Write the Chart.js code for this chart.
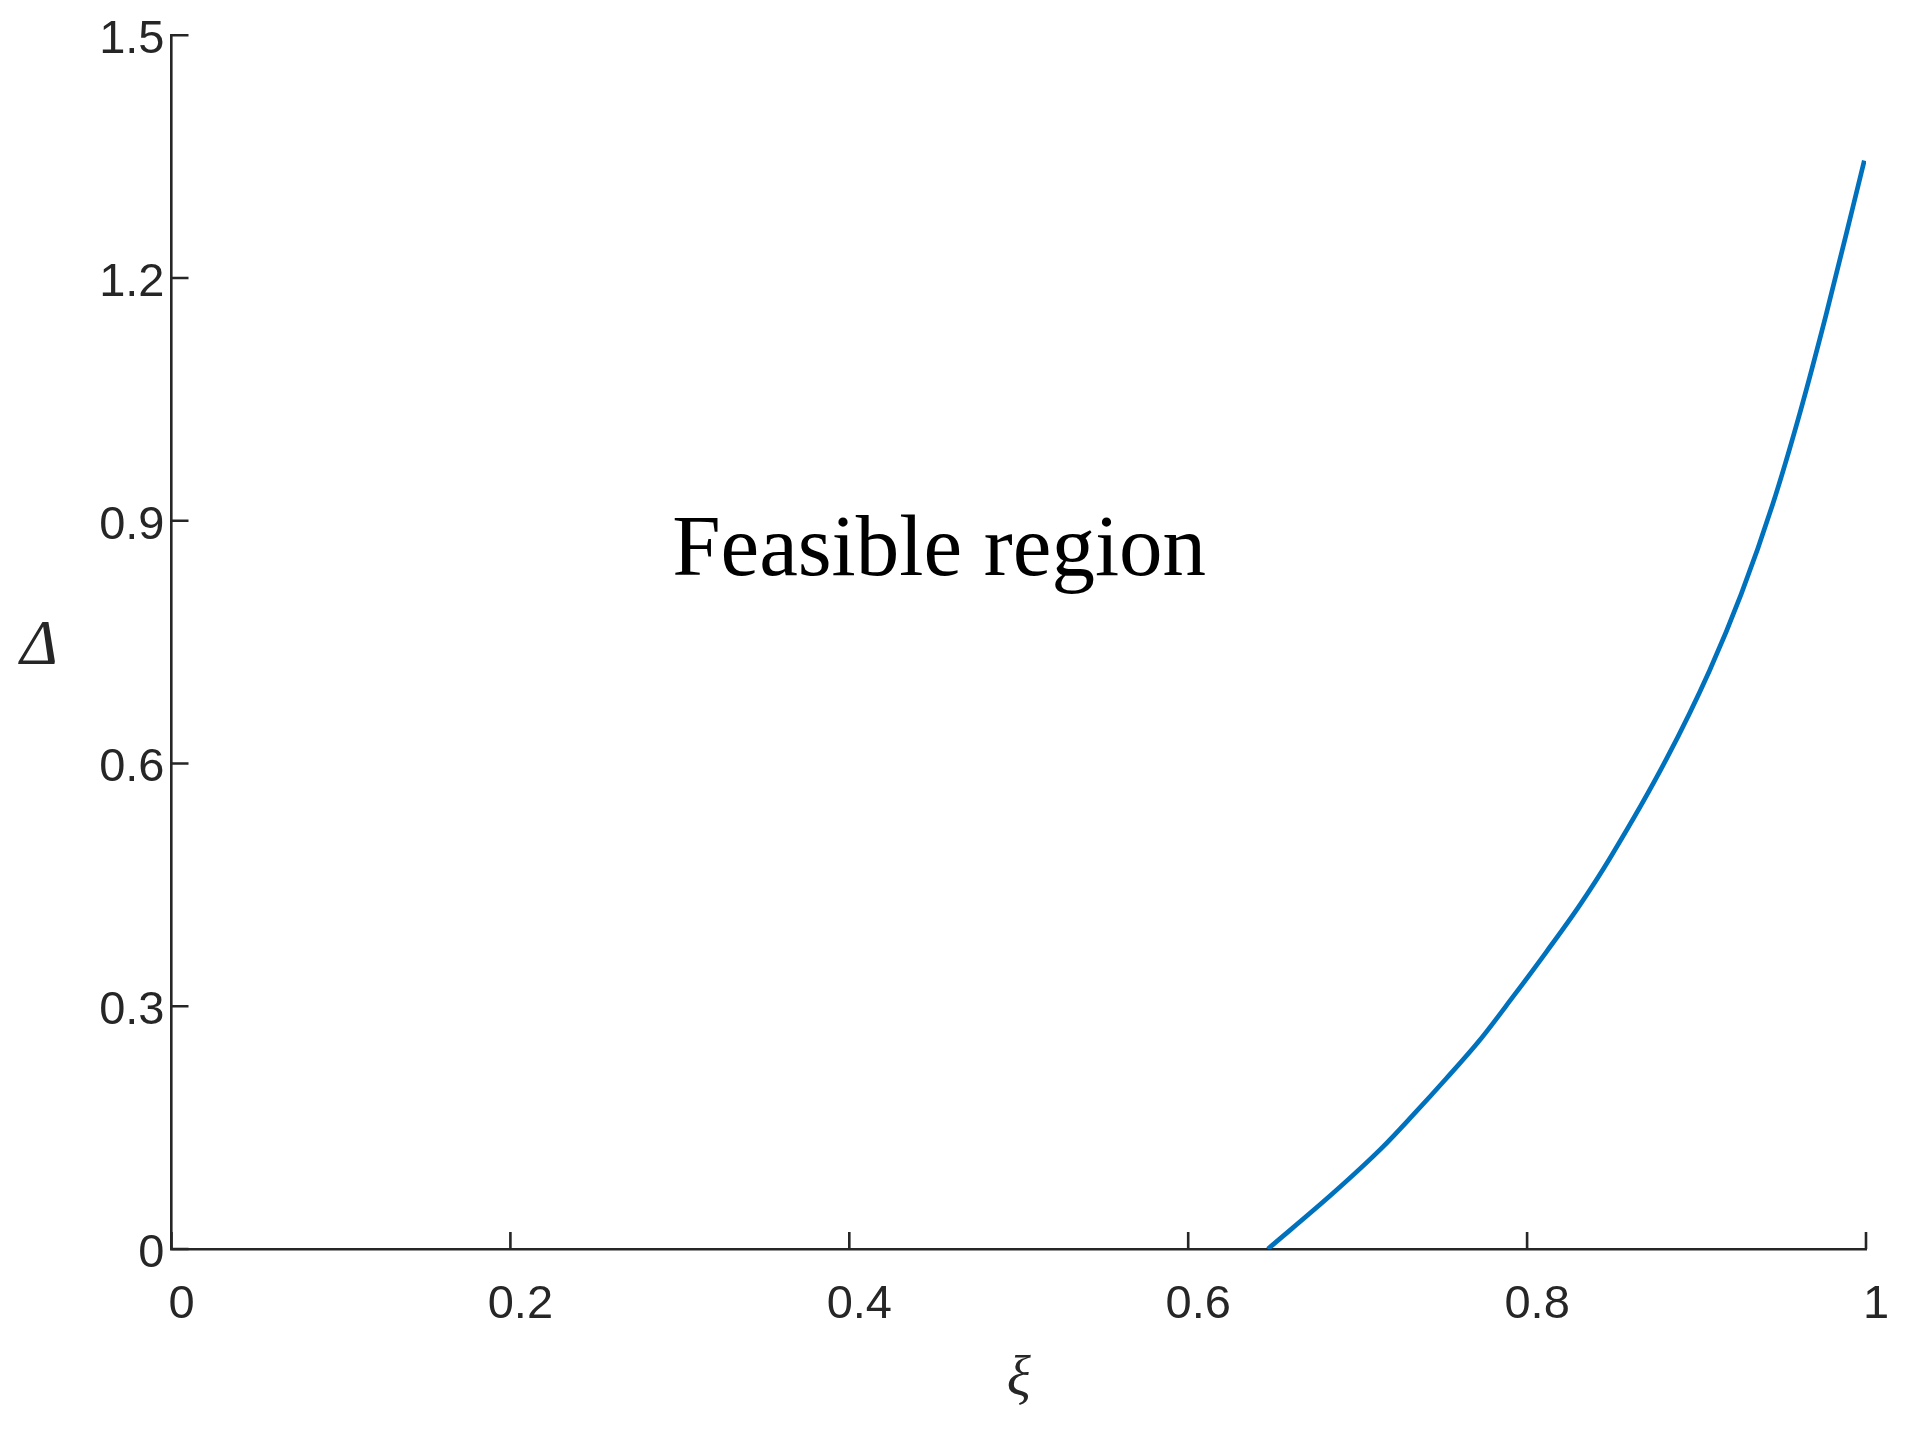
<!DOCTYPE html>
<html>
<head>
<meta charset="utf-8">
<script src="https://cdn.jsdelivr.net/npm/chart.js@4/dist/chart.umd.min.js"></script>
<style>
  html, body { margin: 0; padding: 0; background: #ffffff; }
  #wrap { width: 1914px; height: 1438px; }
</style>
</head>
<body>
<div id="wrap"><canvas id="c" width="1914" height="1438"></canvas></div>
<script>
// ---- data ----
const xiValues    = [0.647, 0.6854, 0.714, 0.7326, 0.7523, 0.7720, 0.7916, 0.8113, 0.8310, 0.8487, 0.8821, 0.9077, 0.9264, 0.9450, 0.9608, 0.9765, 0.9922, 0.9990];
const deltaValues = [0.000, 0.0688, 0.1243, 0.1654, 0.2107, 0.2580, 0.3115, 0.3670, 0.4247, 0.4823, 0.6050, 0.7150, 0.8095, 0.9206, 1.0317, 1.1550, 1.2870, 1.3450];
const xTickValues = [0, 0.2, 0.4, 0.6, 0.8, 1];
const xTickLabels = ['0', '0.2', '0.4', '0.6', '0.8', '1'];
const yTickValues = [0, 0.3, 0.6, 0.9, 1.2, 1.5];
const yTickLabels = ['0', '0.3', '0.6', '0.9', '1.2', '1.5'];
const regionLabel = 'Feasible region';
const regionAt = [0.453, 0.833];
const xTitle = 'ξ';
const yTitle = 'Δ';

const AXIS = '#262626';
const TICK_LEN = 17;
const AXIS_W = 2.6;

const points = xiValues.map((x, i) => ({ x: x, y: deltaValues[i] }));

const decorPlugin = {
  id: 'decor',
  afterDraw(chart) {
    const ctx = chart.ctx;
    const xs = chart.scales.x, ys = chart.scales.y;
    const area = chart.chartArea;
    ctx.save();
    // inward ticks
    ctx.strokeStyle = AXIS;
    ctx.lineWidth = AXIS_W;
    ctx.beginPath();
    xTickValues.forEach(v => {
      const px = xs.getPixelForValue(v);
      ctx.moveTo(px, area.bottom);
      ctx.lineTo(px, area.bottom - TICK_LEN);
    });
    yTickValues.forEach(v => {
      const py = ys.getPixelForValue(v);
      ctx.moveTo(area.left, py);
      ctx.lineTo(area.left + TICK_LEN, py);
    });
    ctx.stroke();
    // annotation
    ctx.fillStyle = '#000000';
    ctx.font = '87px "Liberation Serif", "Times New Roman", serif';
    ctx.textAlign = 'center';
    ctx.textBaseline = 'alphabetic';
    ctx.fillText(regionLabel, xs.getPixelForValue(regionAt[0]), ys.getPixelForValue(regionAt[1]));
    // axis titles
    ctx.fillStyle = AXIS;
    ctx.font = 'italic 56px "Liberation Serif", "Times New Roman", serif';
    ctx.fillText(xTitle, (area.left + area.right) / 2, area.bottom + 146);
    ctx.font = 'italic 64px "Liberation Serif", "Times New Roman", serif';
    ctx.fillText(yTitle, 39, (area.top + area.bottom) / 2 + 22);
    ctx.restore();
  }
};

new Chart(document.getElementById('c'), {
  type: 'scatter',
  data: {
    datasets: [{
      data: points,
      showLine: true,
      borderColor: '#0072BD',
      borderWidth: 4.7,
      pointRadius: 0,
      pointHoverRadius: 0,
      fill: false,
      cubicInterpolationMode: 'monotone'
    }]
  },
  options: {
    responsive: false,
    animation: false,
    events: [],
    layout: { padding: { left: 0, right: 48, top: 34, bottom: 0 } },
    plugins: { legend: { display: false }, tooltip: { enabled: false }, title: { display: false } },
    scales: {
      x: {
        type: 'linear',
        min: 0, max: 1,
        afterFit(scale) { scale.height = 189; },
        afterBuildTicks(scale) { scale.ticks = xTickValues.map(v => ({ value: v })); },
        grid: { display: false, drawTicks: false },
        border: { display: true, color: AXIS, width: AXIS_W },
        ticks: {
          padding: 28,
          labelOffset: 10,
          maxRotation: 0,
          autoSkip: false,
          color: AXIS,
          font: { family: '"Liberation Sans", Arial, sans-serif', size: 47 },
          callback(value) { const i = xTickValues.indexOf(value); return i >= 0 ? xTickLabels[i] : ''; }
        }
      },
      y: {
        type: 'linear',
        min: 0, max: 1.5,
        afterFit(scale) { scale.width = 171.5; },
        afterBuildTicks(scale) { scale.ticks = yTickValues.map(v => ({ value: v })); },
        grid: { display: false, drawTicks: false },
        border: { display: true, color: AXIS, width: AXIS_W },
        ticks: {
          padding: 7,
          labelOffset: 5,
          autoSkip: false,
          color: AXIS,
          font: { family: '"Liberation Sans", Arial, sans-serif', size: 47 },
          callback(value) { const i = yTickValues.indexOf(value); return i >= 0 ? yTickLabels[i] : ''; }
        }
      }
    }
  },
  plugins: [decorPlugin]
});
</script>
</body>
</html>
